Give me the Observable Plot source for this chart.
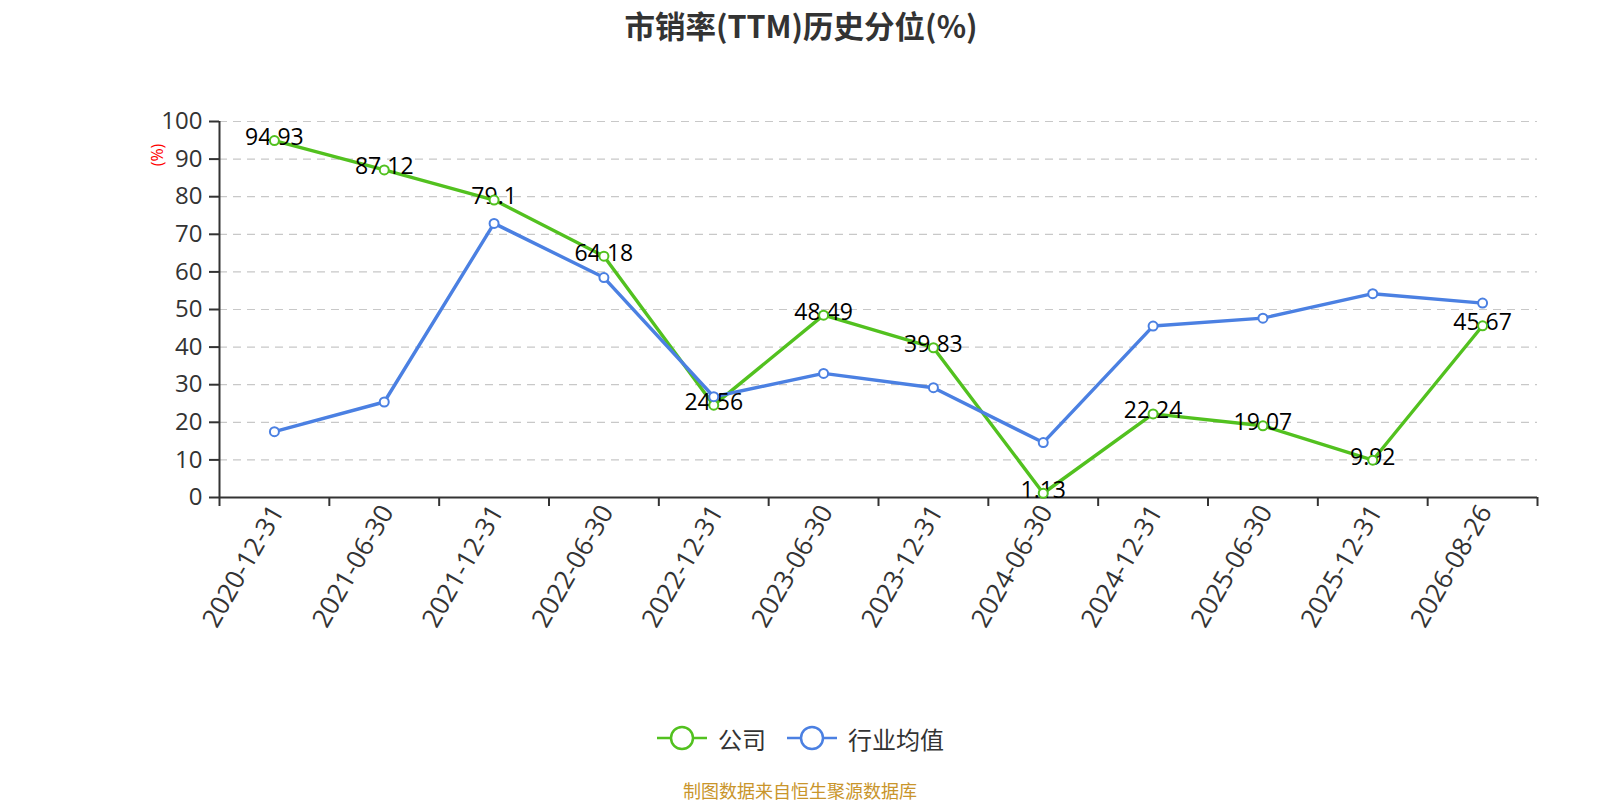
<!DOCTYPE html>
<html>
<head>
<meta charset="utf-8">
<script src="https://cdn.jsdelivr.net/npm/d3@7"></script>
<script src="https://cdn.jsdelivr.net/npm/@observablehq/plot@0.6"></script>
<style>
  html, body { margin: 0; padding: 0; background: #fff; overflow: hidden; }
  #wrap { position: relative; width: 1600px; height: 800px; font-family: "Open Sans", "Noto Sans CJK SC", sans-serif; }
  #title { height: 50px; line-height: 50px; text-align: center; font-size: 30.5px; font-weight: bold; color: #333; padding-left: 2px; font-family: "Noto Sans CJK SC", sans-serif; }
  #ylabel { position: absolute; left: 157px; top: 155px; transform: translate(-50%, -50%) rotate(-90deg); color: #f00; font-size: 16px; white-space: nowrap; }
  #legend { position: absolute; top: 716px; left: 0; width: 1600px; height: 44px; display: flex; justify-content: center; align-items: center; font-size: 24px; color: #333; font-family: "Noto Sans CJK SC", sans-serif; }
  .item { display: flex; align-items: center; margin: 0 10px; }
  .item svg { margin-right: 10px; }
  #caption { position: absolute; top: 775px; left: 0; width: 1600px; text-align: center; font-size: 18px; color: #c9952b; line-height: 30px; font-family: "Noto Sans CJK SC", sans-serif; }
</style>
</head>
<body>
<div id="wrap">
  <div id="title">市销率(TTM)历史分位(%)</div>
  <div id="chart"></div>
  <div id="ylabel">(%)</div>
  <div id="legend"></div>
  <div id="caption">制图数据来自恒生聚源数据库</div>
</div>
<script>
const dates = ["2020-12-31", "2021-06-30", "2021-12-31", "2022-06-30", "2022-12-31", "2023-06-30",
               "2023-12-31", "2024-06-30", "2024-12-31", "2025-06-30", "2025-12-31", "2026-08-26"];
const companyValues = [94.93, 87.12, 79.1, 64.18, 24.56, 48.49, 39.83, 1.13, 22.24, 19.07, 9.92, 45.67];
const industryValues = [17.5, 25.4, 72.9, 58.5, 26.8, 33.0, 29.2, 14.6, 45.6, 47.7, 54.2, 51.7];
const yTicks = [0, 10, 20, 30, 40, 50, 60, 70, 80, 90, 100];
const seriesNames = ["公司", "行业均值"];
const seriesColors = ["#52c11f", "#4b80e2"];

const company = dates.map((d, i) => ({date: d, pos: i + 0.5, value: companyValues[i]}));
const industry = dates.map((d, i) => ({date: d, pos: i + 0.5, value: industryValues[i]}));
const centers = dates.map((d, i) => i + 0.5);
const edges = d3.range(dates.length + 1);

const chart = Plot.plot({
  width: 1600,
  height: 660,
  marginTop: 71,
  marginBottom: 213,
  marginLeft: 219,
  marginRight: 63,
  style: {fontFamily: '"Open Sans", "Noto Sans CJK SC", sans-serif', fontSize: "23px", color: "#333", background: "#fff", overflow: "visible"},
  x: {domain: [0, dates.length], axis: null},
  y: {domain: [0, 100], axis: null},
  marks: [
    Plot.gridY(yTicks.filter(t => t > 0), {stroke: "#c8c8c8", strokeOpacity: 1, strokeWidth: 1.2, strokeDasharray: "8,6"}),
    Plot.axisY({ticks: yTicks, tickSize: 10, tickPadding: 7, fontSize: 24, label: null, stroke: "#333", strokeWidth: 2, fill: "#333"}),
    Plot.axisX({ticks: edges, tickSize: 9, tickFormat: () => "", label: null, stroke: "#333", strokeWidth: 2}),
    Plot.axisX({ticks: centers, tickSize: 0, tickPadding: 10, tickRotate: -60, fontSize: 26, fill: "#333",
                tickFormat: v => dates[Math.floor(v)], label: null, dx: 3}),
    Plot.ruleY([0], {stroke: "#333", strokeWidth: 2}),
    Plot.ruleX([0], {stroke: "#333", strokeWidth: 2}),
    Plot.line(company, {x: "pos", y: "value", stroke: seriesColors[0], strokeWidth: 3.4}),
    Plot.line(industry, {x: "pos", y: "value", stroke: seriesColors[1], strokeWidth: 3.4}),
    Plot.text(company, {x: "pos", y: "value", text: d => String(d.value), fill: "#000", fontSize: 23, dy: -3}),
    Plot.dot(company, {x: "pos", y: "value", r: 4.5, fill: "#fff", stroke: seriesColors[0], strokeWidth: 2}),
    Plot.dot(industry, {x: "pos", y: "value", r: 4.5, fill: "#fff", stroke: seriesColors[1], strokeWidth: 2})
  ]
});
document.getElementById("chart").appendChild(chart);

const legend = document.getElementById("legend");
seriesNames.forEach((name, i) => {
  const item = document.createElement("div");
  item.className = "item";
  item.innerHTML = `<svg width="52" height="28"><line x1="1" y1="14" x2="51" y2="14" stroke="${seriesColors[i]}" stroke-width="2.5"/><circle cx="26" cy="14" r="11" fill="#fff" stroke="${seriesColors[i]}" stroke-width="2.5"/></svg><span>${name}</span>`;
  legend.appendChild(item);
});
</script>
</body>
</html>
